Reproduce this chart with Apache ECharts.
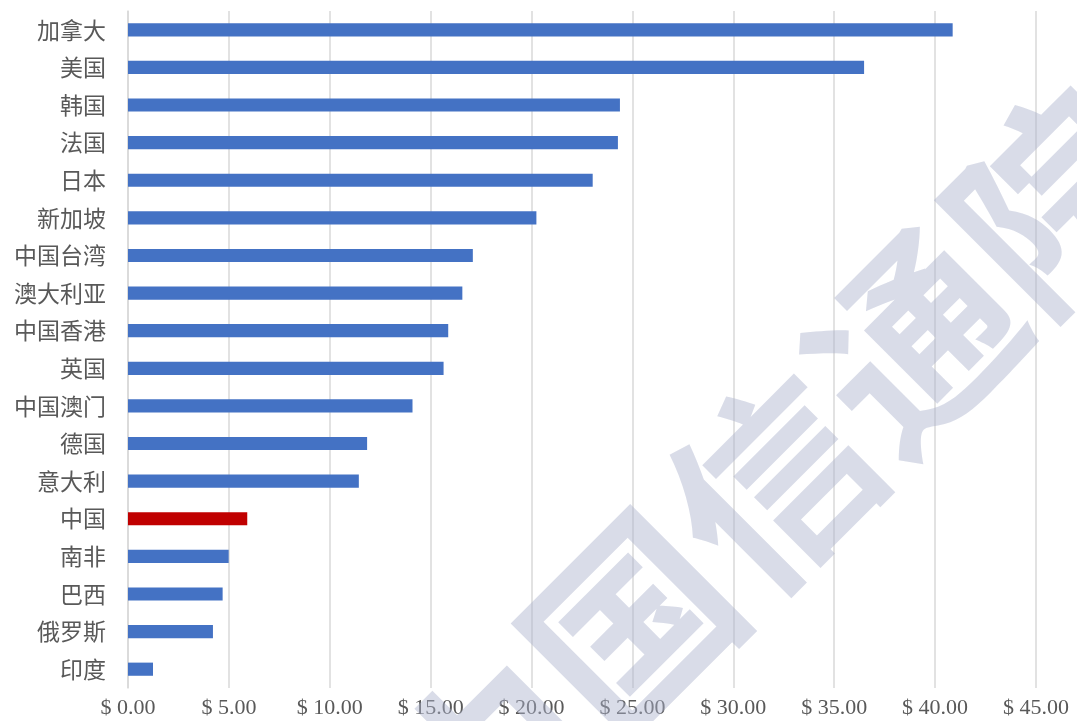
<!DOCTYPE html>
<html>
<head>
<meta charset="utf-8">
<script src="https://cdn.jsdelivr.net/npm/echarts@6/dist/echarts.min.js"></script>
<style>
html,body{margin:0;padding:0;background:#fff;}
#chart{width:1077px;height:721px;}
</style>
</head>
<body>
<div id="chart"></div>
<script>
var categories = ['加拿大','美国','韩国','法国','日本','新加坡','中国台湾','澳大利亚','中国香港','英国','中国澳门','德国','意大利','中国','南非','巴西','俄罗斯','印度'];
var values = [40.87, 36.48, 24.38, 24.28, 23.03, 20.24, 17.09, 16.57, 15.87, 15.64, 14.10, 11.85, 11.44, 5.91, 4.99, 4.69, 4.21, 1.24];
var highlightCategory = '中国';
var xTicks = [0, 5, 10, 15, 20, 25, 30, 35, 40, 45];

var chart = echarts.init(document.getElementById('chart'), null, {renderer: 'canvas'});
var data = values.map(function (v, i) {
  return {
    value: v,
    itemStyle: {color: categories[i] === highlightCategory ? '#C00000' : '#4472C4'}
  };
});
chart.setOption({
  animation: false,
  backgroundColor: '#ffffff',
  grid: {left: 128, right: 41, top: 11, bottom: 33, containLabel: false},
  xAxis: {
    type: 'value',
    min: xTicks[0],
    max: xTicks[xTicks.length - 1],
    interval: 5,
    axisLine: {show: false},
    axisTick: {show: false},
    splitLine: {show: true, lineStyle: {color: '#d9d9d9', width: 1.5}},
    axisLabel: {
      margin: 9,
      color: '#595959',
      fontSize: 22,
      fontFamily: '"Liberation Serif", "Times New Roman", serif',
      formatter: function (v) { return '$ ' + v.toFixed(2); }
    }
  },
  yAxis: {
    type: 'category',
    data: categories,
    inverse: true,
    axisLine: {show: true, lineStyle: {color: '#d9d9d9', width: 1.5}},
    axisTick: {show: false},
    axisLabel: {
      margin: 22,
      color: '#595959',
      fontSize: 23,
      fontFamily: '"Noto Sans CJK SC", "Liberation Serif", serif'
    }
  },
  series: [{
    type: 'bar',
    data: data,
    barWidth: '35%',
    z: 2
  }],
  graphic: [{
    type: 'text',
    x: 773,
    y: 483,
    rotation: 45 * Math.PI / 180,
    z: 100,
    silent: true,
    style: {
      text: '中国信通院',
      font: 'bold 200px "Noto Sans CJK SC", sans-serif',
      fill: 'rgba(170,178,205,0.45)',
      align: 'center',
      verticalAlign: 'middle'
    }
  }]
});
</script>
</body>
</html>
